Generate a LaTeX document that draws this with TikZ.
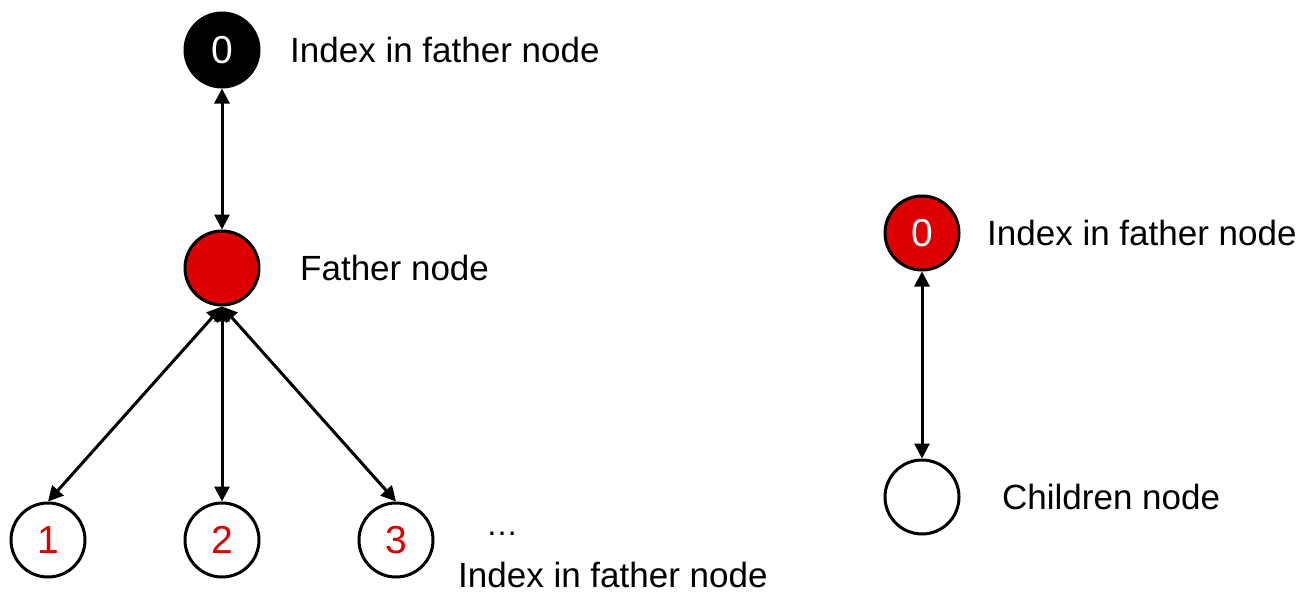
\documentclass[tikz,border=0pt]{standalone}
\usepackage{fontspec}
\setmainfont{Liberation Sans}
\usetikzlibrary{arrows.meta}
\definecolor{nred}{HTML}{DD0000}
\tikzset{
  circ/.style={circle, draw=black, line width=3pt, minimum size=74pt, inner sep=0pt, font=\fontsize{39}{42}\selectfont},
  blk/.style={circ, fill=black, text=white},
  rd/.style={circ, fill=nred, text=white},
  wht/.style={circ, fill=white, text=nred},
  lbl/.style={anchor=west, inner sep=0pt, font=\fontsize{35}{38}\selectfont},
  link/.style={line width=3pt, {Triangle[length=15pt,width=15pt]}-{Triangle[length=15pt,width=15pt]}}
}
\begin{document}
\begin{tikzpicture}[x=1pt,y=-1pt]
\useasboundingbox (0,0) rectangle (1312,594);
\node[blk] (top) at (222,50) {0};
\node[rd] (fat) at (222,268) {};
\node[wht] (c1) at (48,540) {1};
\node[wht] (c2) at (222,540) {2};
\node[wht] (c3) at (396,540) {3};
\node[rd] (r0) at (922,233) {0};
\node[wht] (rc) at (922,497) {};
\node[lbl] (t1) at (290,50) {Index in father node};
\node[lbl] (t2) at (300,268) {Father node};
\node[lbl, font=\fontsize{32}{34}\selectfont] (t3) at (486,534) {…};
\node[lbl] (t4) at (458,575) {Index in father node};
\node[lbl] (t5) at (987,233) {Index in father node};
\node[lbl] (t6) at (1002,497) {Children node};
\draw[link] (top.south) -- (fat.north);
\draw[link] (fat.south) -- (c1.north);
\draw[link] (fat.south) -- (c2.north);
\draw[link] (fat.south) -- (c3.north);
\draw[link] (r0.south) -- (rc.north);
\end{tikzpicture}
\end{document}
